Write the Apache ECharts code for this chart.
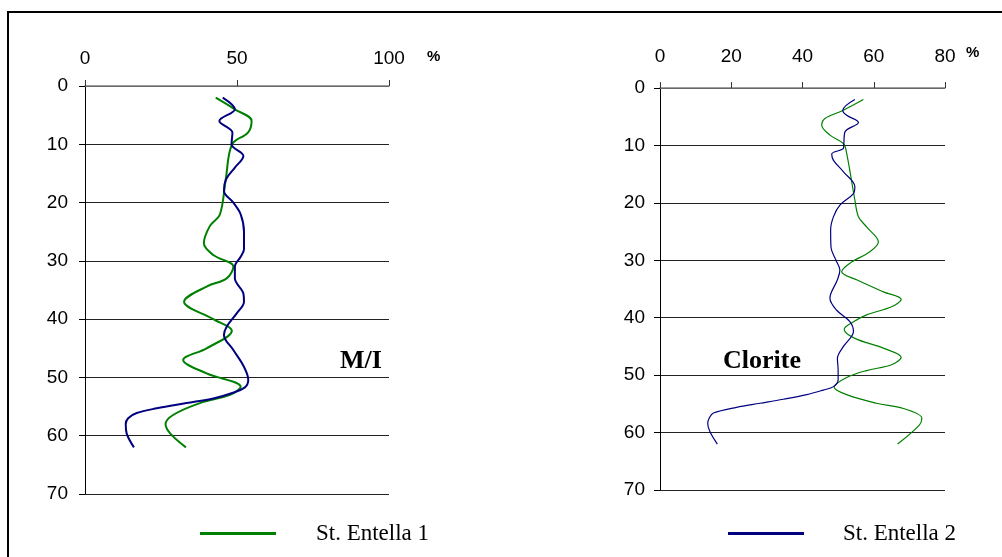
<!DOCTYPE html>
<html>
<head>
<meta charset="utf-8">
<script src="https://cdn.jsdelivr.net/npm/echarts@6/dist/echarts.min.js"></script>
<style>
  html, body { margin: 0; padding: 0; background: #fff; }
  #chart { width: 1002px; height: 557px; }
</style>
</head>
<body>
<div id="chart"></div>
<script>
var chart = echarts.init(document.getElementById('chart'));

// M/I - St. Entella 1
let miDepth1 = [2, 4, 6, 8, 10, 16, 22, 24, 27, 29, 31, 33, 34.4, 37, 40, 42, 45, 47, 49.3, 51.6, 53, 54.4, 56.4, 58, 59.6, 62];
let miValue1 = [43, 49.3, 54.8, 53.6, 48.4, 46.3, 44.4, 41.1, 39.1, 42.2, 48.8, 46.6, 40, 32.6, 42.2, 48.3, 40, 32.3, 40, 51.2, 47.7, 37.8, 29.1, 26.5, 28, 33.2];
// M/I - St. Entella 2
let miDepth2 = [2, 4, 6, 8, 10, 12, 14, 16, 18, 20, 22, 25, 28, 29.3, 31, 33, 35.6, 37, 39, 41.3, 42.7, 45.3, 48, 50.4, 51.7, 52.8, 53.6, 54.4, 55.3, 56.1, 57, 58, 59.6, 62];
let miValue2 = [45.3, 49.3, 44.2, 48.5, 48.2, 52.1, 49.3, 46.4, 45.7, 48.8, 51.2, 52.3, 52.3, 51.2, 49.3, 49.3, 52.1, 52.3, 49.9, 46.6, 45.7, 48.8, 52.1, 53.7, 52.6, 47.7, 42.2, 33.4, 23.6, 17, 14.2, 13.4, 13.7, 16.1];
// Clorite - St. Entella 1
let clDepth1 = [2, 4, 5.3, 6.5, 8.2, 9.7, 11.4, 19.5, 22.4, 24.2, 26.8, 28.5, 30.5, 32, 33.4, 35.5, 36.8, 38.1, 39.5, 40.7, 42, 43.6, 45.3, 46.9, 48.2, 49.2, 50.4, 52.1, 53.4, 54.9, 55.8, 57.5, 58.7, 62];
let clValue1 = [57.1, 51, 46.3, 45.4, 47.7, 51.5, 52.4, 54.7, 55.7, 58, 61.3, 58.9, 53.3, 51, 55.2, 62.7, 67.7, 65, 58, 54.3, 51.7, 54.7, 62.7, 67.7, 65, 58, 52.4, 48.9, 52.4, 60.8, 68.3, 73.5, 72.8, 66.7];
// Clorite - St. Entella 2
let clDepth2 = [2, 3.9, 4.75, 6, 7.65, 9.7, 10.5, 11.5, 12.6, 14.6, 17.2, 18.4, 20.4, 22.4, 24.7, 27.7, 30, 31.7, 33.4, 36.6, 38.7, 40.7, 42.4, 45, 47.1, 49.1, 50.8, 52, 52.6, 53.4, 54.2, 54.9, 55.6, 56.6, 57.5, 58.4, 59.8, 62];
let clValue2 = [54.7, 51.3, 52.4, 55.7, 51.9, 51.6, 51.5, 48.2, 48.7, 51.5, 54.7, 54.3, 50.5, 48.7, 47.9, 48, 49.4, 50.5, 49.8, 47.7, 49.6, 53.3, 54.3, 51.5, 49.8, 50, 50, 48.7, 45.8, 41.2, 34.6, 28.1, 21.5, 15, 13.8, 13.4, 14, 16.1];

let green = '#008000';
let blue = '#000080';
let font = 'Liberation Sans, Arial, sans-serif';
let serif = 'Liberation Serif, Times New Roman, serif';

let pairs = function(depth, values) {
    return depth.map((d, i) => [values[i], d]);
};

let xAxisBase = function(idx, max, interval, margin) {
    return {
        gridIndex: idx,
        type: 'value',
        position: 'top',
        min: 0,
        max: max,
        interval: interval,
        axisLine: { lineStyle: { color: '#808080', width: 1.5 } },
        axisTick: { show: true, length: 6, lineStyle: { color: '#333' } },
        axisLabel: { color: '#000', fontSize: 19, fontFamily: font, margin: margin },
        splitLine: { show: false }
    };
};

let yAxisBase = function(idx, margin) {
    return {
        gridIndex: idx,
        type: 'value',
        inverse: true,
        min: 0,
        max: 70,
        interval: 10,
        axisLine: { show: true, lineStyle: { color: '#000' } },
        axisTick: { show: true, length: 6, lineStyle: { color: '#000' } },
        axisLabel: { color: '#000', fontSize: 19, fontFamily: font, margin: margin },
        splitLine: { show: true, lineStyle: { color: '#222', width: 1 } }
    };
};

let lineSeries = function(name, idx, data, color, width) {
    return {
        name: name,
        type: 'line',
        xAxisIndex: idx,
        yAxisIndex: idx,
        data: data,
        smooth: 0.35,
        showSymbol: false,
        symbol: 'none',
        lineStyle: { color: color, width: width },
        itemStyle: { color: color }
    };
};

option = {
    backgroundColor: '#fff',
    animation: false,
    grid: [
        { left: 85, top: 86, width: 304, height: 408 },
        { left: 660, top: 88, width: 285, height: 402 }
    ],
    xAxis: [xAxisBase(0, 100, 50, 18), xAxisBase(1, 80, 20, 22)],
    yAxis: [yAxisBase(0, 17), yAxisBase(1, 15)],
    legend: [{
        data: ['St. Entella 1'],
        left: 195,
        top: 517,
        icon: 'rect',
        itemWidth: 76,
        itemHeight: 3,
        textStyle: { fontFamily: serif, fontSize: 23, color: '#000', padding: [0, 0, 0, 35] }
    }, {
        data: ['St. Entella 2'],
        left: 723,
        top: 517,
        icon: 'rect',
        itemWidth: 76,
        itemHeight: 3,
        textStyle: { fontFamily: serif, fontSize: 23, color: '#000', padding: [0, 0, 0, 34] }
    }],
    graphic: [{
        type: 'rect',
        shape: { x: 8, y: 12, width: 1010, height: 560 },
        style: { fill: 'none', stroke: '#000', lineWidth: 2 },
        silent: true
    }, {
        type: 'text', left: 427, top: 49,
        style: { text: '%', font: 'bold 15px ' + font, fill: '#000' }
    }, {
        type: 'text', left: 966, top: 45,
        style: { text: '%', font: 'bold 15px ' + font, fill: '#000' }
    }, {
        type: 'text', left: 340, top: 348,
        style: { text: 'M/I', font: 'bold 26px ' + serif, fill: '#000' }
    }, {
        type: 'text', left: 723, top: 348,
        style: { text: 'Clorite', font: 'bold 26px ' + serif, fill: '#000' }
    }],
    series: [
        lineSeries('St. Entella 1', 0, pairs(miDepth1, miValue1), green, 2),
        lineSeries('St. Entella 2', 0, pairs(miDepth2, miValue2), blue, 2),
        lineSeries('St. Entella 1', 1, pairs(clDepth1, clValue1), green, 1.2),
        lineSeries('St. Entella 2', 1, pairs(clDepth2, clValue2), blue, 1.2)
    ]
};
chart.setOption(option);
</script>
</body>
</html>
